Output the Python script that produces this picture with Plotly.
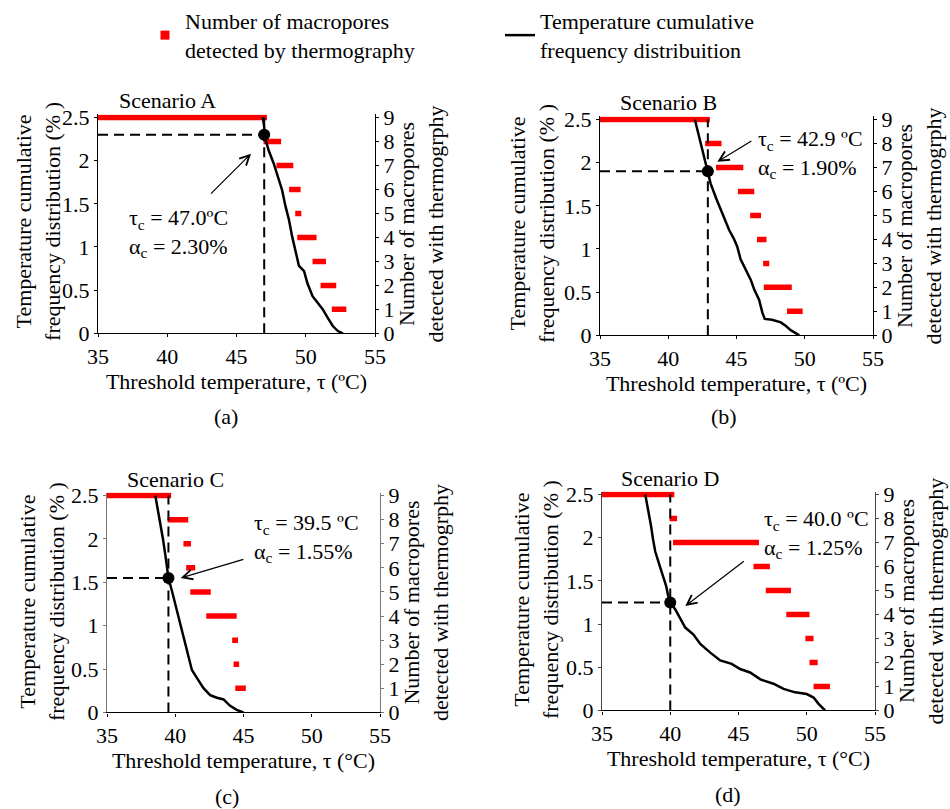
import plotly.graph_objects as go

FONT = "Liberation Serif, Times New Roman, Times, serif"
W, H = 950, 809

# ---------------- data ----------------
x_ticks = [35, 40, 45, 50, 55]
left_ticks = [0, 0.5, 1, 1.5, 2, 2.5]
left_ticklabels = ["0", "0.5", "1", "1.5", "2", "2.5"]
right_ticks = [0, 1, 2, 3, 4, 5, 6, 7, 8, 9]
bar_levels = [9, 8, 7, 6, 5, 4, 3, 2, 1]

# Scenario A
a_curve_x = [46.9, 47.0, 47.0, 47.32, 47.68, 47.93, 48.29, 48.54, 48.78, 49.02, 49.27,
             49.51, 49.88, 50.12, 50.49, 50.85, 51.22, 51.59, 51.95, 52.32, 52.68]
a_curve_y = [2.5, 2.39, 2.30, 2.12, 1.97, 1.85, 1.66, 1.47, 1.32, 1.12, 0.93,
             0.78, 0.72, 0.58, 0.43, 0.35, 0.28, 0.18, 0.085, 0.027, 0.0]
a_bar_start = [35.0, 46.95, 47.88, 48.8, 49.24, 49.39, 50.49, 51.07, 51.88]
a_bar_end = [47.2, 48.22, 49.1, 49.63, 49.68, 50.78, 51.46, 52.2, 52.93]
a_tau, a_alpha = 47.0, 2.30

# Scenario B
b_curve_x = [41.95, 42.15, 42.4, 42.63, 42.9, 43.1, 43.5, 43.85, 44.2, 44.46, 44.8, 45.05,
             45.3, 45.7, 46.05, 46.3, 46.66, 46.9, 47.07, 47.6, 48.25, 48.6, 48.97, 49.6]
b_curve_y = [2.5, 2.37, 2.22, 2.07, 1.90, 1.76, 1.59, 1.45, 1.33, 1.22, 1.12, 1.03,
             0.88, 0.76, 0.64, 0.53, 0.41, 0.26, 0.19, 0.18, 0.15, 0.11, 0.06, 0.0]
b_bar_start = [35.0, 42.7, 43.5, 45.1, 46.0, 46.5, 46.95, 47.0, 48.7]
b_bar_end = [43.05, 43.9, 45.5, 46.3, 46.8, 47.2, 47.4, 49.05, 49.85]
b_tau, b_alpha = 42.9, 1.90

# Scenario C
c_curve_x = [38.54, 38.66, 38.9, 39.1, 39.27, 39.44, 39.5, 39.76, 40.0, 40.24, 40.49,
             40.73, 40.98, 41.22, 41.7, 42.07, 42.56, 43.05, 43.54, 44.0, 44.5, 45.0]
c_curve_y = [2.5, 2.4, 2.2, 2.0, 1.82, 1.63, 1.55, 1.40, 1.25, 1.10, 0.94,
             0.79, 0.64, 0.49, 0.37, 0.28, 0.20, 0.17, 0.15, 0.08, 0.03, 0.0]
c_bar_start = [35.0, 39.44, 40.6, 40.8, 41.1, 42.27, 44.17, 44.27, 44.4]
c_bar_end = [39.7, 40.95, 41.15, 41.46, 42.6, 44.5, 44.6, 44.68, 45.17]
c_tau, c_alpha = 39.5, 1.55

# Scenario D
d_curve_x = [38.17, 38.3, 38.46, 38.6, 38.73, 38.9, 39.2, 39.46, 39.7, 39.83, 40.0,
             40.37, 40.73, 41.1, 41.7, 42.2, 42.93, 43.66, 44.5, 45.12, 45.85, 46.6,
             47.56, 48.3, 49.15, 50.0, 50.5, 50.85, 51.34]
d_curve_y = [2.5, 2.40, 2.26, 2.13, 1.99, 1.84, 1.69, 1.57, 1.44, 1.34, 1.25,
             1.17, 1.07, 0.96, 0.88, 0.77, 0.67, 0.58, 0.54, 0.48, 0.44, 0.36,
             0.31, 0.25, 0.21, 0.19, 0.15, 0.08, 0.0]
d_bar_start = [35.0, 39.95, 40.2, 46.1, 47.0, 48.5, 49.9, 50.2, 50.5]
d_bar_end = [40.3, 40.5, 46.5, 47.3, 48.85, 50.2, 50.5, 50.8, 51.7]
d_tau, d_alpha = 40.0, 1.25

LEFT_TITLE = "Temperature cumulative<br>frequency distribution (% )"

panels = [
    dict(name="Scenario A", label="(a)", cx=a_curve_x, cy=a_curve_y, bs=a_bar_start, be=a_bar_end,
         tau=a_tau, alpha=a_alpha, tau_txt="47.0ºC", alpha_txt="2.30%",
         txt_xy=(37.1, 1.16), arrow_head=(46.05, 2.08), arrow_tail=(43.05, 1.6),
         xdom=(98, 375), ybot=331, ytop=114, lab_xy=(226, 415), ltitle=(38, 219),
         xtitle="Threshold temperature, τ (ºC)", rtitle="Number of macropores<br>detected with thermogrphy",
         axcol="black"),
    dict(name="Scenario B", label="(b)", cx=b_curve_x, cy=b_curve_y, bs=b_bar_start, be=b_bar_end,
         tau=b_tau, alpha=b_alpha, tau_txt="42.9 ºC", alpha_txt="1.90%",
         txt_xy=(46.4, 2.1), arrow_head=(43.6, 2.01), arrow_tail=(46.2, 2.26),
         xdom=(600, 873), ybot=333, ytop=116, lab_xy=(724, 415), ltitle=(532, 221),
         xtitle="Threshold temperature, τ (ºC)", rtitle="Number of macropores<br>detected with thermogrphy",
         axcol="black"),
    dict(name="Scenario C", label="(c)", cx=c_curve_x, cy=c_curve_y, bs=c_bar_start, be=c_bar_end,
         tau=c_tau, alpha=c_alpha, tau_txt="39.5 ºC", alpha_txt="1.55%",
         txt_xy=(45.6, 2.01), arrow_head=(40.4, 1.55), arrow_tail=(45.1, 1.77),
         xdom=(107, 380), ybot=712, ytop=494, lab_xy=(227, 796), ltitle=(42, 601),
         xtitle="Threshold temperature, τ (°C)", rtitle="Number of macropores<br>detected with thermogrphy",
         axcol="#777777"),
    dict(name="Scenario D", label="(d)", cx=d_curve_x, cy=d_curve_y, bs=d_bar_start, be=d_bar_end,
         tau=d_tau, alpha=d_alpha, tau_txt="40.0 ºC", alpha_txt="1.25%",
         txt_xy=(46.7, 2.045), arrow_head=(41.1, 1.21), arrow_tail=(45.5, 1.74),
         xdom=(602, 875), ybot=710, ytop=493, lab_xy=(728, 794), ltitle=(536, 599),
         xtitle="Threshold temperature, τ (°C)", rtitle="Number of macropores<br>detected with thermography",
         axcol="#444444"),
]

EXTRA_PX = 3  # small headroom so the top bar is not clipped
fig = go.Figure()
tick_font = dict(family=FONT, size=22, color="black")
layout = {}
annotations = []

# legend-only entry for bars
fig.add_trace(go.Scatter(x=[None], y=[None], mode="markers", xaxis="x", yaxis="y2",
                         marker=dict(symbol="square", size=9, color="red"),
                         name="Number of macropores<br>detected by thermography", showlegend=True))

for i, p in enumerate(panels, start=1):
    xname = "x" if i == 1 else f"x{i}"
    lnum = 2 * i - 1
    rnum = 2 * i
    lname = "y" if lnum == 1 else f"y{lnum}"
    rname = f"y{rnum}"
    plot_h = p["ybot"] - p["ytop"]
    ltop = 2.5 * (plot_h + EXTRA_PX) / plot_h
    rtop = 9 * (plot_h + EXTRA_PX) / plot_h
    xd = [p["xdom"][0] / W, p["xdom"][1] / W]
    yd = [1 - p["ybot"] / H, 1 - (p["ytop"] - EXTRA_PX) / H]

    layout["xaxis" if i == 1 else f"xaxis{i}"] = dict(
        domain=xd, anchor=rname, range=[35, 55], tickvals=x_ticks, showline=True,
        linecolor="black", linewidth=1.2, ticks="outside", ticklen=3, tickcolor="black",
        showgrid=False, zeroline=False, tickfont=tick_font, automargin=False,
        title=dict(text=p["xtitle"], font=tick_font, standoff=5))
    # base axis: right (counts)
    layout[f"yaxis{rnum}"] = dict(
        domain=yd, anchor=xname, side="right", range=[0, rtop], tickvals=right_ticks,
        showline=True, linecolor=p["axcol"], linewidth=1.2, ticks="outside", ticklen=3,
        tickcolor=p["axcol"], showgrid=False, zeroline=False, tickfont=tick_font,
        automargin=False, title=dict(text=p["rtitle"], font=tick_font, standoff=4))
    # overlaying axis: left (percent)
    layout["yaxis" if lnum == 1 else f"yaxis{lnum}"] = dict(
        domain=yd, anchor=xname, overlaying=rname, side="left", range=[0, ltop],
        tickvals=left_ticks, ticktext=left_ticklabels, showline=True, linecolor=p["axcol"],
        linewidth=1.2, ticks="outside", ticklen=3, tickcolor=p["axcol"], showgrid=False,
        zeroline=False, tickfont=tick_font, automargin=False)

    # left axis title (placed precisely as rotated text)
    annotations.append(dict(x=p["ltitle"][0] / W, y=1 - p["ltitle"][1] / H,
                            xref="paper", yref="paper", text=LEFT_TITLE, textangle=-90,
                            showarrow=False, xanchor="center", yanchor="middle",
                            font=dict(family=FONT, size=22, color="black")))

    # red bars
    bx, by = [], []
    for lev, s, e in zip(bar_levels, p["bs"], p["be"]):
        bx += [s, e, None]
        by += [lev, lev, None]
    fig.add_trace(go.Scatter(x=bx, y=by, mode="lines", xaxis=xname, yaxis=rname,
                             line=dict(color="red", width=5.5), showlegend=False,
                             hoverinfo="skip"))
    # dashed guides
    fig.add_trace(go.Scatter(x=[35, p["tau"], None, p["tau"], p["tau"]],
                             y=[p["alpha"], p["alpha"], None, 0, 2.5],
                             mode="lines", xaxis=xname, yaxis=lname,
                             line=dict(color="black", width=2, dash="10px,6px"),
                             showlegend=False, hoverinfo="skip"))
    # cumulative curve
    fig.add_trace(go.Scatter(x=p["cx"], y=p["cy"], mode="lines", xaxis=xname, yaxis=lname,
                             line=dict(color="black", width=2.5),
                             name="Temperature cumulative<br>frequency distribuition",
                             showlegend=(i == 1)))
    # critical point
    fig.add_trace(go.Scatter(x=[p["tau"]], y=[p["alpha"]], mode="markers", xaxis=xname,
                             yaxis=lname, marker=dict(color="black", size=12),
                             showlegend=False))

    # annotations
    annotations.append(dict(x=40, y=2.5, xref=xname, yref=lname, text=p["name"],
                            showarrow=False, yanchor="bottom", yshift=2,
                            font=dict(family=FONT, size=22, color="black")))
    annotations.append(dict(x=p["txt_xy"][0], y=p["txt_xy"][1], xref=xname, yref=lname,
                            text=f"τ<sub>c</sub> = {p['tau_txt']}<br>α<sub>c</sub> = {p['alpha_txt']}",
                            showarrow=False, xanchor="left", yanchor="middle", align="left",
                            font=dict(family=FONT, size=22, color="black")))
    annotations.append(dict(x=p["arrow_head"][0], y=p["arrow_head"][1], xref=xname, yref=lname,
                            ax=p["arrow_tail"][0], ay=p["arrow_tail"][1], axref=xname, ayref=lname,
                            text="", showarrow=True, arrowhead=5, arrowsize=1.6, arrowwidth=1.2,
                            arrowcolor="black"))
    annotations.append(dict(x=p["lab_xy"][0] / W, y=1 - p["lab_xy"][1] / H, xref="paper",
                            yref="paper", text=p["label"], showarrow=False,
                            xanchor="center", yanchor="middle",
                            font=dict(family=FONT, size=22, color="black")))

fig.update_layout(
    width=W, height=H, margin=dict(l=0, r=0, t=0, b=0),
    paper_bgcolor="white", plot_bgcolor="white",
    font=dict(family=FONT, size=22, color="black"),
    showlegend=True,
    legend=dict(orientation="h", x=145 / W, y=1 + 4 / H, xanchor="left", yanchor="top",
                font=dict(family=FONT, size=22, color="black"), entrywidth=310,
                bgcolor="rgba(0,0,0,0)", valign="middle"),
    annotations=annotations,
    **layout,
)

fig.write_html("out.html")
